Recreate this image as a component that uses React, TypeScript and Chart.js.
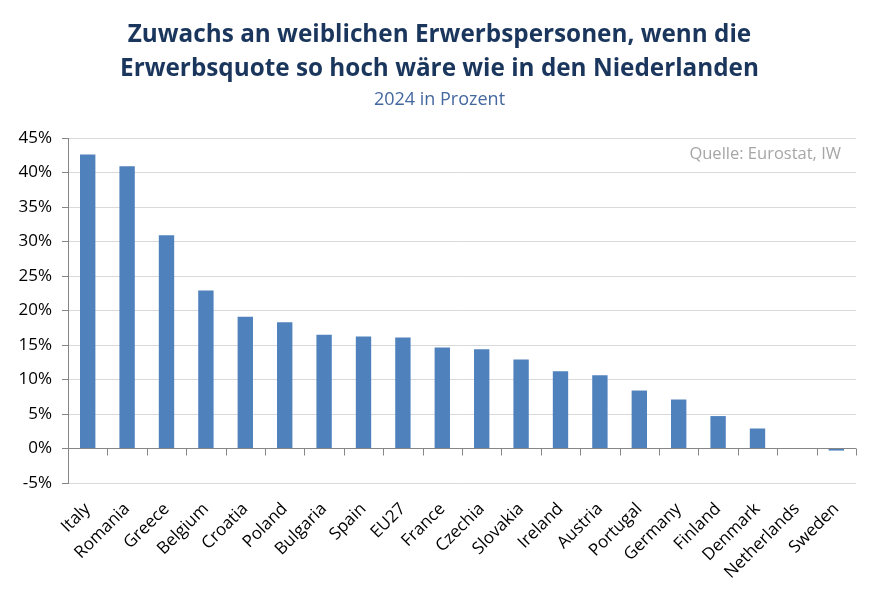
import React, { useEffect, useRef } from "react";
import { Chart, registerables } from "chart.js";

Chart.register(...registerables);

const categories = [
  "Italy", "Romania", "Greece", "Belgium", "Croatia", "Poland", "Bulgaria",
  "Spain", "EU27", "France", "Czechia", "Slovakia", "Ireland", "Austria",
  "Portugal", "Germany", "Finland", "Denmark", "Netherlands", "Sweden",
];
const values = [
  42.6, 40.9, 30.9, 22.9, 19.1, 18.3, 16.5, 16.25, 16.1, 14.65, 14.4, 12.9,
  11.2, 10.6, 8.4, 7.1, 4.7, 2.9, 0, -0.3,
];
const yMin = -5;
const yMax = 45;
const yStep = 5;
const titleLines = [
  "Zuwachs an weiblichen Erwerbspersonen, wenn die",
  "Erwerbsquote so hoch wäre wie in den Niederlanden",
];
const subtitleText = "2024 in Prozent";
const sourceText = "Quelle: Eurostat, IW";

const W = 879;
const H = 602;
const FONT = "'Open Sans', 'Noto Sans', sans-serif";

const overlayPlugin = {
  id: "overlay",
  beforeDraw(chart: any) {
    const ctx = chart.ctx;
    ctx.save();
    ctx.fillStyle = "#ffffff";
    ctx.fillRect(0, 0, chart.width, chart.height);
    ctx.restore();
  },
  beforeDatasetsDraw(chart: any) {
    const ctx = chart.ctx;
    const x = chart.scales.x;
    const y = chart.scales.y;
    const area = chart.chartArea;
    const y0 = Math.round(y.getPixelForValue(0)) - 0.5;
    ctx.save();
    ctx.strokeStyle = "#868686";
    ctx.lineWidth = 1;
    ctx.beginPath();
    ctx.moveTo(area.left, y0);
    ctx.lineTo(area.right, y0);
    for (let i = 1; i <= categories.length; i++) {
      const px = Math.round(x.getPixelForValue(i - 0.5)) + 0.5;
      ctx.moveTo(px, y0);
      ctx.lineTo(px, y0 + 7);
    }
    ctx.stroke();
    ctx.restore();
  },
  afterDraw(chart: any) {
    const ctx = chart.ctx;
    const area = chart.chartArea;
    ctx.save();
    ctx.textAlign = "center";
    ctx.textBaseline = "middle";
    ctx.fillStyle = "#1B365D";
    ctx.font = `bold 24.3px ${FONT}`;
    ctx.fillText(titleLines[0], chart.width / 2, 35);
    ctx.fillText(titleLines[1], chart.width / 2, 69);
    ctx.fillStyle = "#44679F";
    ctx.font = `18px ${FONT}`;
    ctx.fillText(subtitleText, chart.width / 2, 100);
    ctx.textAlign = "right";
    ctx.fillStyle = "#A6A6A6";
    ctx.font = `16.5px ${FONT}`;
    ctx.fillText(sourceText, area.right - 15, area.top + 16);
    ctx.restore();
  },
};

export default function App() {
  const ref = useRef<HTMLCanvasElement | null>(null);

  useEffect(() => {
    if (!ref.current) return;
    const chart = new Chart(ref.current, {
      type: "bar",
      data: {
        labels: categories,
        datasets: [
          {
            data: values,
            backgroundColor: "#4F81BD",
            borderWidth: 0,
            barPercentage: 0.39,
            categoryPercentage: 1,
          },
        ],
      },
      options: {
        responsive: false,
        animation: false,
        devicePixelRatio: 1,
        layout: { padding: { top: 138, right: 23, bottom: 0, left: 0 } },
        plugins: {
          legend: { display: false },
          tooltip: { enabled: false },
          title: { display: false },
        },
        scales: {
          x: {
            offset: true,
            grid: { display: false, drawTicks: false },
            border: { display: false },
            ticks: {
              autoSkip: false,
              maxRotation: 45,
              minRotation: 45,
              padding: 16,
              color: "#000000",
              font: { family: FONT, size: 17 },
            },
            afterFit(scale: any) {
              scale.height = H - 483;
            },
          },
          y: {
            min: yMin,
            max: yMax,
            grid: {
              color: "#D9D9D9",
              tickColor: "#868686",
              tickLength: 6,
            },
            border: { display: true, color: "#868686" },
            ticks: {
              stepSize: yStep,
              padding: 10,
              color: "#000000",
              font: { family: FONT, size: 17 },
              callback: (v: any) => `${v}%`,
            },
            afterFit(scale: any) {
              scale.width = 68;
            },
          },
        },
      },
      plugins: [overlayPlugin],
    });
    return () => chart.destroy();
  }, []);

  return (
    <div style={{ position: "fixed", left: 0, top: 0, width: W, height: H, background: "#fff" }}>
      <canvas ref={ref} width={W} height={H} style={{ width: W, height: H }} />
    </div>
  );
}
